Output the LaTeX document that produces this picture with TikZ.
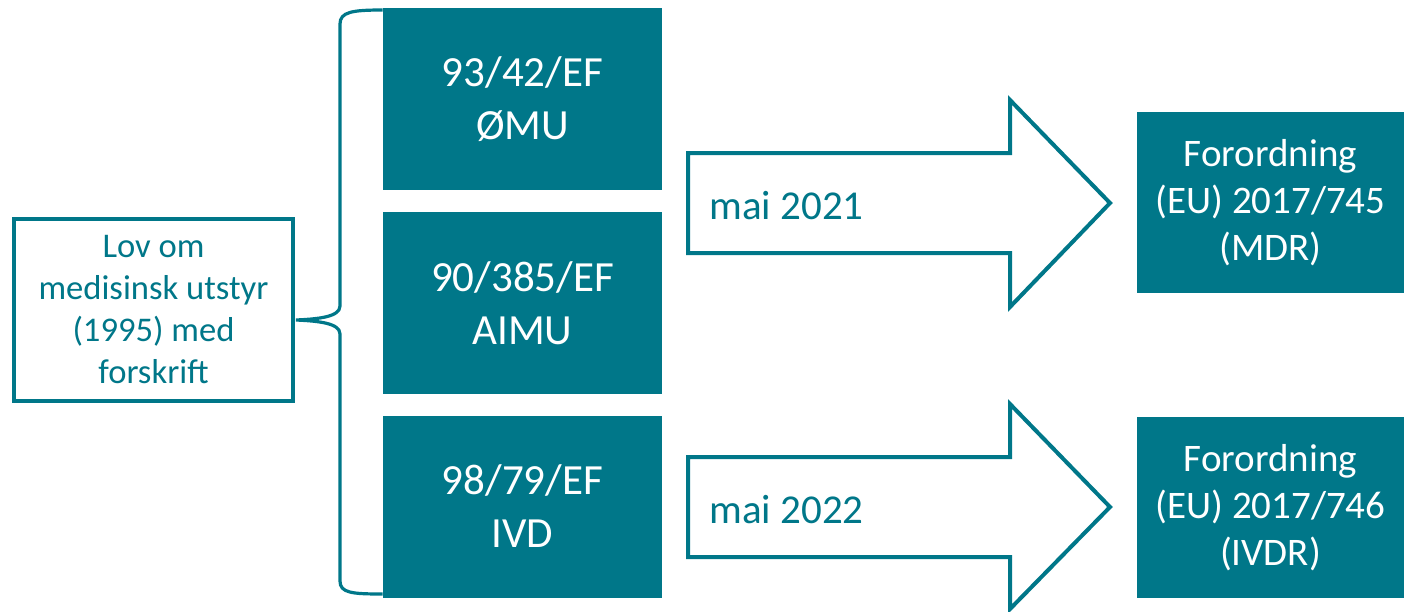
\documentclass[tikz,border=0pt]{standalone}
\usepackage{fontspec}
\setmainfont{Carlito}
\usepackage{tikz}
\usetikzlibrary{positioning,calc}
\definecolor{teal}{RGB}{0,119,137}

\begin{document}
\begin{tikzpicture}[
  x=0.5pt, y=-0.5pt,
  lawbox/.style={draw=teal, line width=2pt, fill=white, minimum width=139.5pt, minimum height=91pt, align=center, text=teal, font=\fontsize{17.3}{21}\selectfont, inner sep=0pt},
  directive/.style={fill=teal, minimum width=139.5pt, minimum height=91pt, align=center, text=white, font=\fontsize{21.5}{26.5}\selectfont, inner sep=0pt},
  regulation/.style={fill=teal, minimum width=133.5pt, minimum height=90.5pt, align=center, text=white, font=\fontsize{19.5}{23.5}\selectfont, inner sep=0pt},
  blockarrow/.style={draw=teal, line width=2pt, line join=miter, fill=white},
  datelabel/.style={anchor=west, text=teal, font=\fontsize{20.5}{23.5}\selectfont, inner sep=0pt},
  brace/.style={draw=teal, line width=1.6pt},
]
  \useasboundingbox (0,0) rectangle (1404,611);

  % left: the Norwegian law
  \node[lawbox] (law) at (153.5,310) {Lov om\\medisinsk utstyr\\(1995) med\\forskrift};

  % middle: the three directives
  \node[directive] (omu) at (522.5,99) {93/42/EF\\ØMU};
  \node[directive] (aimu) at (522.5,303) {90/385/EF\\AIMU};
  \node[directive] (ivd) at (522.5,506.5) {98/79/EF\\IVD};

  % right: the regulations
  \node[regulation] (mdr) at (1270.5,202.5) {Forordning\\(EU) 2017/745\\(MDR)};
  \node[regulation] (ivdr) at (1270.5,507.5) {Forordning\\(EU) 2017/746\\(IVDR)};

  % brace joining the law to the directives
  \coordinate (tip) at (296,320);
  \draw[brace] (omu.north west |- 0,10) .. controls (352,10) and (340,12) .. (340,24)
    -- (340,306) .. controls (340,317) and (318,319) .. (tip)
    .. controls (318,321) and (340,323) .. (340,334)
    -- (340,581) .. controls (340,593) and (352,594) .. (ivd.south west |- 0,594);

  % transition arrows
  \draw[blockarrow] (688,153) -- (1010,153) -- (1010,100) -- (1110,203)
    -- (1010,307) -- (1010,253) -- (688,253) -- cycle;
  \node[datelabel] (may21) at (709,206) {mai 2021};
  \draw[blockarrow] (688,457) -- (1010,457) -- (1010,404) -- (1110,507)
    -- (1010,609) -- (1010,557) -- (688,557) -- cycle;
  \node[datelabel] (may22) at (709,510) {mai 2022};
\end{tikzpicture}
\end{document}
